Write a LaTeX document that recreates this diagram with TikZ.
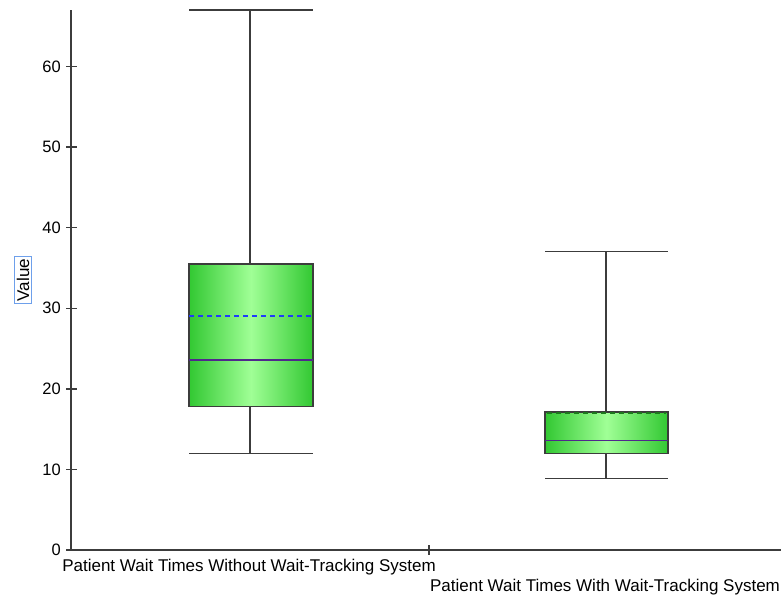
\documentclass[tikz,border=0pt]{standalone}
\usepackage{fontspec}
\setmainfont{Liberation Sans}
\definecolor{axisgray}{RGB}{60,60,60}
\definecolor{boxgreen}{RGB}{50,200,50}
\definecolor{boxlight}{RGB}{160,255,150}
\definecolor{medianpurple}{RGB}{80,40,140}
\definecolor{meanblue}{RGB}{30,60,250}
\definecolor{labelblue}{RGB}{110,160,235}

\begin{document}
\begin{tikzpicture}[x=1pt,y=-1pt,
    axis_line/.style={draw=axisgray,line width=1.4pt},
    whisker/.style={draw=axisgray,line width=1.4pt},
    box_body/.style={draw=axisgray,line width=1.4pt,left color=boxgreen,right color=boxgreen,middle color=boxlight},
    median_line/.style={draw=medianpurple,line width=1.6pt},
    mean_line/.style={draw=meanblue,line width=1.8pt,dash pattern=on 5pt off 4pt},
    tick_label/.style={font=\fontsize{16.5}{19}\selectfont,anchor=east,inner sep=0pt},
    cat_label/.style={font=\fontsize{17}{19}\selectfont,inner sep=0pt}]

    \useasboundingbox (0,0) rectangle (781,598);

    % axes
    \coordinate (o) at (71,550);
    \coordinate (ytop) at (71,10);
    \coordinate (xend) at (781,550);
    \draw[axis_line] (ytop) -- (o) -- (xend);
    \foreach \v in {0,10,...,60} {
        \draw[axis_line] (66,{550-8.06*\v}) -- (77,{550-8.06*\v});
        \node[tick_label] (t\v) at (61,{550-8.06*\v}) {\v};
    }
    \draw[axis_line] (429,545) -- (429,555);

    % box 1 (without)
    \draw[whisker] (189,{550-8.06*67}) -- (313,{550-8.06*67});
    \draw[whisker] (250,{550-8.06*67}) -- (250,{550-8.06*12});
    \draw[whisker] (189,{550-8.06*12}) -- (313,{550-8.06*12});
    \draw[box_body] (189,{550-8.06*17.8}) rectangle (313,{550-8.06*35.5});
    \draw[median_line] (189,{550-8.06*23.6}) -- (313,{550-8.06*23.6});
    \draw[mean_line] (189,{550-8.06*29.0}) -- (313,{550-8.06*29.0});

    % box 2 (with)
    \draw[whisker] (545,{550-8.06*37}) -- (668,{550-8.06*37});
    \draw[whisker] (606,{550-8.06*37}) -- (606,{550-8.06*8.9});
    \draw[whisker] (545,{550-8.06*8.9}) -- (668,{550-8.06*8.9});
    \draw[box_body] (545,{550-8.06*12}) rectangle (668,{550-8.06*17.1});
    \draw[median_line] (545,{550-8.06*13.6}) -- (668,{550-8.06*13.6});
    \draw[mean_line,draw=boxgreen!60!black] (547,{550-8.06*17.0}) -- (666,{550-8.06*17.0});

    % labels
    \node[cat_label] (c1) at (249,567) {Patient Wait Times Without Wait-Tracking System};
    \node[cat_label] (c2) at (605,587) {Patient Wait Times With Wait-Tracking System};
    \node[cat_label,draw=labelblue,line width=1pt,rotate=90,inner sep=2.5pt] (val) at (23,280) {Value};

\end{tikzpicture}
\end{document}
